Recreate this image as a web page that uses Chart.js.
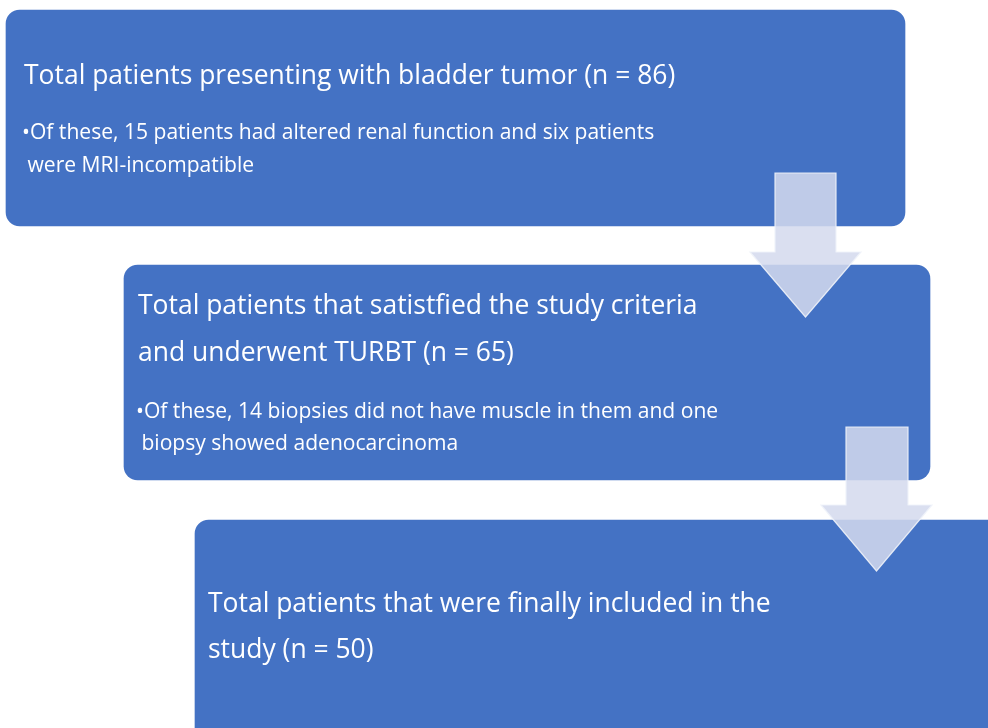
<!DOCTYPE html>
<html>
<head>
<meta charset="utf-8">
<script src="https://cdn.jsdelivr.net/npm/chart.js@4/dist/chart.umd.min.js"></script>
<style>
  html, body { margin: 0; padding: 0; background: #ffffff; }
  #wrap { width: 988px; height: 728px; }
</style>
</head>
<body>
<div id="wrap"><canvas id="c" width="988" height="728"></canvas></div>
<script>
// ---- data ----
const stageNames = ["presented", "eligible", "included"];
const patientCounts = [86, 65, 50];
const titleLines = [
  ["Total patients presenting with bladder tumor (n = 86)"],
  ["Total patients that satistfied the study criteria", "and underwent TURBT (n = 65)"],
  ["Total patients that were finally included in the", "study (n = 50)"]
];
const noteLines = [
  ["\u2022Of these, 15 patients had altered renal function and six patients", " were MRI-incompatible"],
  ["\u2022Of these, 14 biopsies did not have muscle in them and one", " biopsy showed adenocarcinoma"],
  []
];

// ---- layout (canvas-space units on hidden linear axes) ----
const boxLayout = [
  { x0: 6,   x1: 905,  y0: 10,  y1: 226 },
  { x0: 124, x1: 930,  y0: 265, y1: 480 },
  { x0: 195, x1: 1030, y0: 520, y1: 780 }
];
const textLayout = [
  { tx: 24, titleBase: [84], nx: 22, noteBase: [139, 172] },
  { tx: 138, titleBase: [314, 361], nx: 136, noteBase: [418, 450] },
  { tx: 208, titleBase: [612, 658], nx: 206, noteBase: [] }
];
const arrowLayout = [
  { sx0: 775, sx1: 836, top: 173, headTop: 252, hx0: 750, hx1: 861, tip: 317 },
  { sx0: 846, sx1: 908, top: 427, headTop: 505, hx0: 821, hx1: 932, tip: 571 }
];
const BOX_COLOR = "#4472C4";
const ARROW_FILL = "rgba(212,218,238,0.86)";
const ARROW_EDGE = "rgba(240,243,250,0.9)";
const FONT = "'Open Sans', 'Noto Sans', sans-serif";
const TITLE_SIZE = 27, NOTE_SIZE = 21.5, SCALE_X = 0.98;

const datasets = stageNames.map((name, i) => {
  const b = boxLayout[i];
  return {
    label: name + " (n = " + patientCounts[i] + ")",
    data: [{ x: [b.x0, b.x1], y: (b.y0 + b.y1) / 2 }],
    backgroundColor: BOX_COLOR,
    borderWidth: 0,
    borderRadius: 14,
    borderSkipped: false,
    barThickness: b.y1 - b.y0,
    grouped: false
  };
});

const flowPlugin = {
  id: "flow",
  afterDatasetsDraw(chart) {
    const ctx = chart.ctx;
    const xs = chart.scales.x, ys = chart.scales.y;
    const X = v => xs.getPixelForValue(v), Y = v => ys.getPixelForValue(v);
    // arrows
    arrowLayout.forEach(a => {
      ctx.save();
      ctx.beginPath();
      ctx.moveTo(X(a.sx0), Y(a.top));
      ctx.lineTo(X(a.sx1), Y(a.top));
      ctx.lineTo(X(a.sx1), Y(a.headTop));
      ctx.lineTo(X(a.hx1), Y(a.headTop));
      ctx.lineTo(X((a.hx0 + a.hx1) / 2), Y(a.tip));
      ctx.lineTo(X(a.hx0), Y(a.headTop));
      ctx.lineTo(X(a.sx0), Y(a.headTop));
      ctx.closePath();
      ctx.fillStyle = ARROW_FILL;
      ctx.fill();
      ctx.lineWidth = 1.2;
      ctx.strokeStyle = ARROW_EDGE;
      ctx.stroke();
      ctx.restore();
    });
    // text
    ctx.save();
    ctx.fillStyle = "#ffffff";
    ctx.textBaseline = "alphabetic";
    ctx.textAlign = "left";
    titleLines.forEach((lines, i) => {
      const t = textLayout[i];
      lines.forEach((ln, j) => {
        ctx.save();
        ctx.font = TITLE_SIZE + "px " + FONT;
        ctx.translate(X(t.tx), Y(t.titleBase[j]));
        ctx.scale(SCALE_X, 1);
        ctx.fillText(ln, 0, 0);
        ctx.restore();
      });
      noteLines[i].forEach((ln, j) => {
        ctx.save();
        ctx.font = NOTE_SIZE + "px " + FONT;
        ctx.translate(X(t.nx), Y(t.noteBase[j]));
        ctx.scale(SCALE_X, 1);
        ctx.fillText(ln, 0, 0);
        ctx.restore();
      });
    });
    ctx.restore();
  }
};

new Chart(document.getElementById("c"), {
  type: "bar",
  data: { datasets },
  options: {
    indexAxis: "y",
    responsive: false,
    animation: false,
    layout: { padding: 0 },
    plugins: { legend: { display: false }, tooltip: { enabled: false } },
    scales: {
      x: { type: "linear", min: 0, max: 988, display: false, offset: false },
      y: { type: "linear", min: 0, max: 728, reverse: true, display: false, offset: false }
    }
  },
  plugins: [flowPlugin]
});
</script>
</body>
</html>
